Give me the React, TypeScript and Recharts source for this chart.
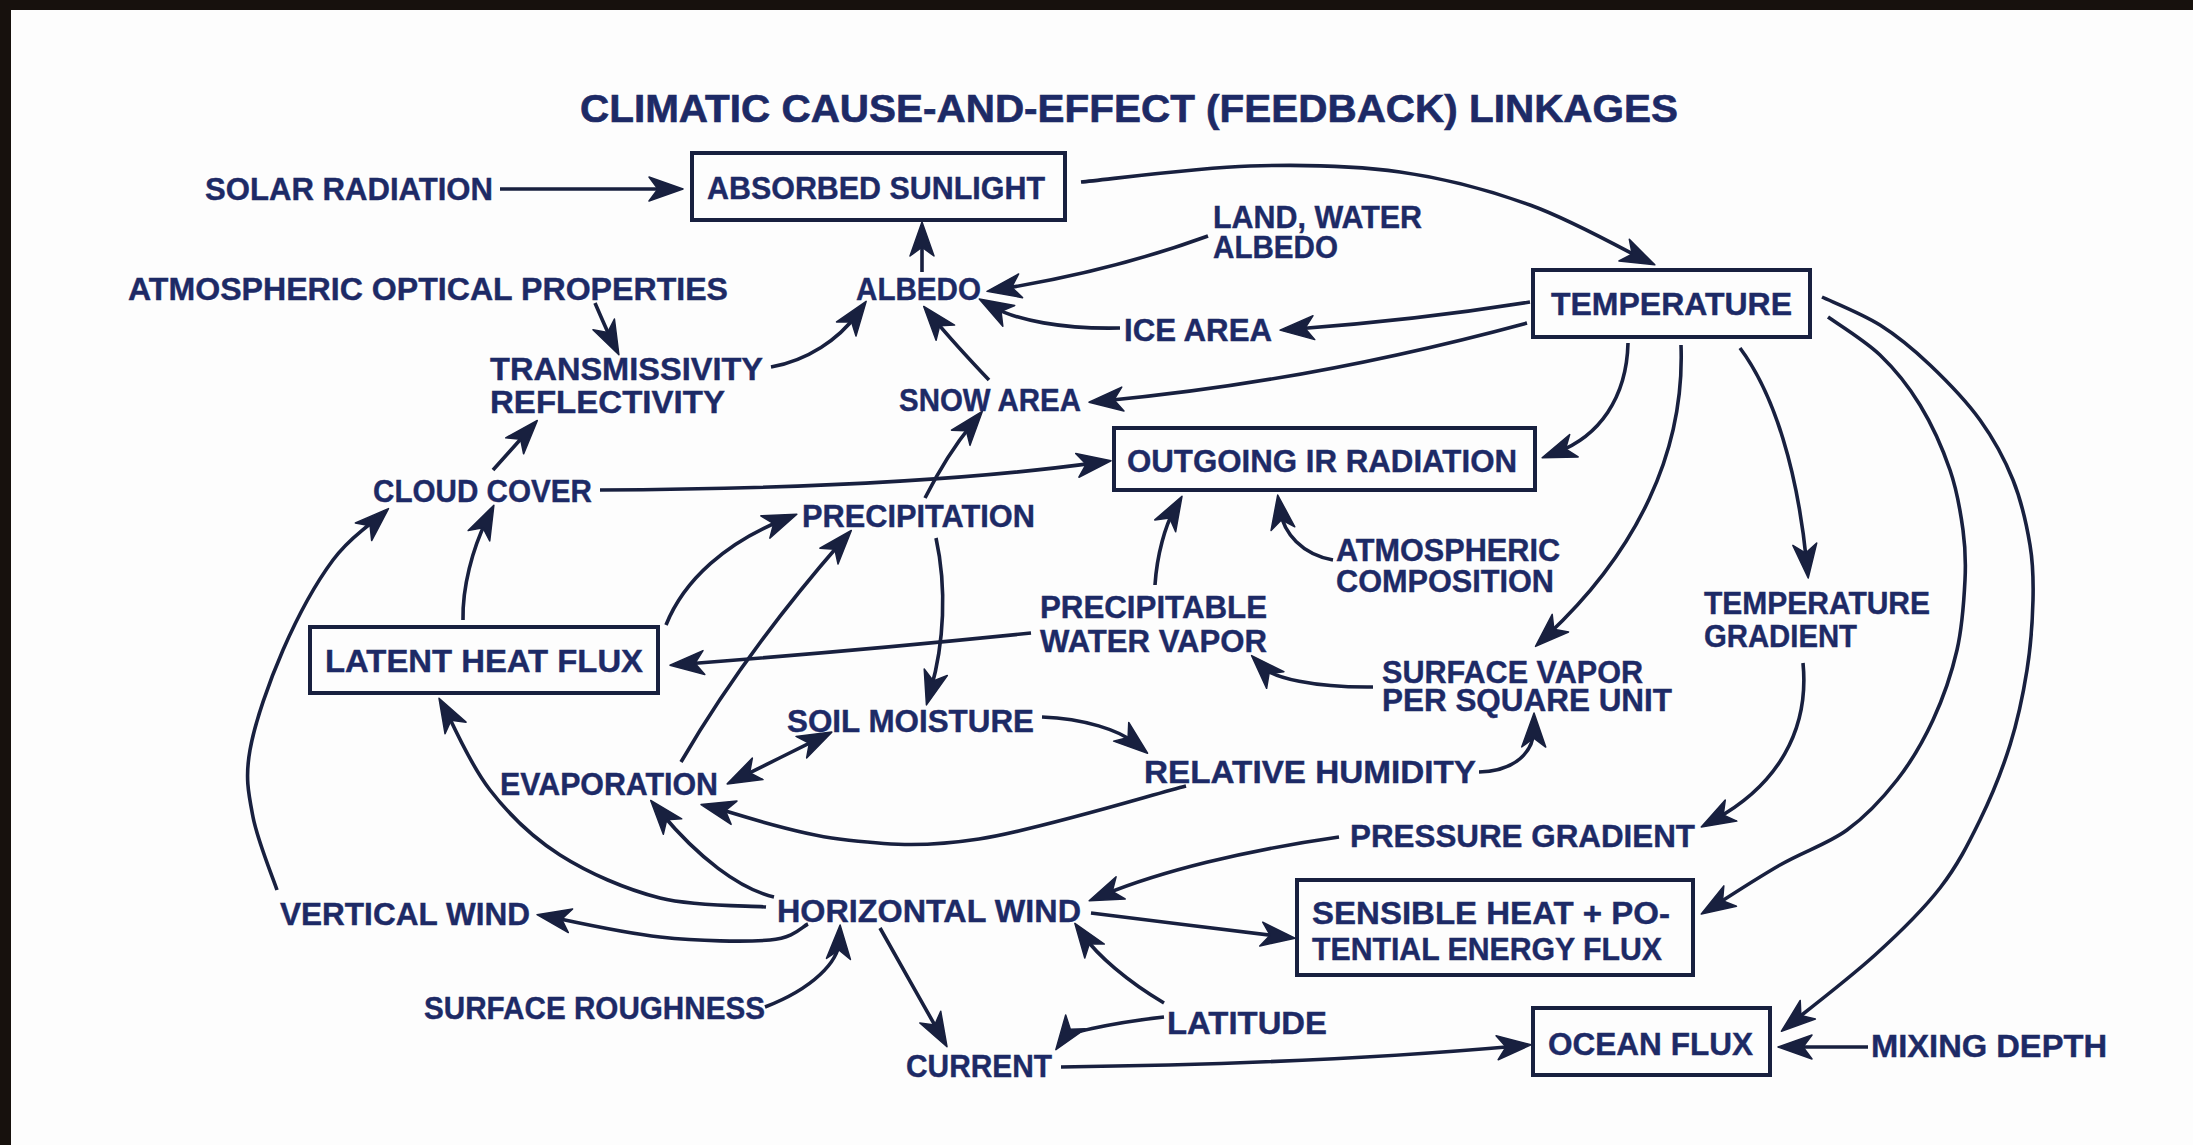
import React from "react";
import { ScatterChart, Scatter, XAxis, YAxis, ReferenceArea } from "recharts";

const WIDTH = 2193;
const HEIGHT = 1145;
const INK = "#18203f";
const LETTER = "#1d2a66";
const FONT = 32;

const title = "CLIMATIC CAUSE-AND-EFFECT (FEEDBACK) LINKAGES";

// lettering on the sheet: text, left edge, middle of the caps
const labels = [
  { text: "SOLAR RADIATION", x: 205, y: 188 },
  { text: "ABSORBED SUNLIGHT", x: 707, y: 187 },
  { text: "LAND, WATER", x: 1213, y: 216 },
  { text: "ALBEDO", x: 1213, y: 246 },
  { text: "ATMOSPHERIC OPTICAL PROPERTIES", x: 128, y: 288 },
  { text: "ALBEDO", x: 856, y: 288 },
  { text: "TEMPERATURE", x: 1551, y: 303 },
  { text: "ICE AREA", x: 1124, y: 329 },
  { text: "TRANSMISSIVITY", x: 490, y: 368 },
  { text: "REFLECTIVITY", x: 490, y: 401 },
  { text: "SNOW AREA", x: 899, y: 399 },
  { text: "OUTGOING IR RADIATION", x: 1127, y: 460 },
  { text: "CLOUD COVER", x: 373, y: 490 },
  { text: "PRECIPITATION", x: 802, y: 515 },
  { text: "ATMOSPHERIC", x: 1336, y: 549 },
  { text: "COMPOSITION", x: 1336, y: 580 },
  { text: "TEMPERATURE", x: 1704, y: 602 },
  { text: "GRADIENT", x: 1704, y: 635 },
  { text: "PRECIPITABLE", x: 1040, y: 606 },
  { text: "WATER VAPOR", x: 1040, y: 640 },
  { text: "LATENT HEAT FLUX", x: 325, y: 660 },
  { text: "SURFACE VAPOR", x: 1382, y: 671 },
  { text: "PER SQUARE UNIT", x: 1382, y: 699 },
  { text: "SOIL MOISTURE", x: 787, y: 720 },
  { text: "RELATIVE HUMIDITY", x: 1144, y: 771 },
  { text: "EVAPORATION", x: 500, y: 783 },
  { text: "PRESSURE GRADIENT", x: 1350, y: 835 },
  { text: "VERTICAL WIND", x: 280, y: 913 },
  { text: "HORIZONTAL WIND", x: 777, y: 910 },
  { text: "SENSIBLE HEAT + PO-", x: 1312, y: 912 },
  { text: "TENTIAL ENERGY FLUX", x: 1312, y: 948 },
  { text: "SURFACE ROUGHNESS", x: 424, y: 1007 },
  { text: "LATITUDE", x: 1167, y: 1022 },
  { text: "OCEAN FLUX", x: 1548, y: 1043 },
  { text: "MIXING DEPTH", x: 1871, y: 1045 },
  { text: "CURRENT", x: 906, y: 1065 },
];

// how wide each label is lettered (same order as labels)
const labelWidths = [
  288, 338, 209, 125, 600, 125, 241, 148, 273, 235, 182, 390, 219, 233, 224,
  218, 226, 153, 227, 227, 318, 261, 290, 247, 332, 218, 345, 250, 304, 358,
  350, 341, 160, 205, 236, 146,
];

// framed quantities
const boxes = [
  { name: "ABSORBED SUNLIGHT", x1: 692, x2: 1065, y1: 153, y2: 220 },
  { name: "TEMPERATURE", x1: 1533, x2: 1810, y1: 270, y2: 337 },
  { name: "OUTGOING IR RADIATION", x1: 1114, x2: 1535, y1: 428, y2: 490 },
  { name: "LATENT HEAT FLUX", x1: 310, x2: 658, y1: 627, y2: 693 },
  { name: "SENSIBLE HEAT + POTENTIAL ENERGY FLUX", x1: 1297, x2: 1693, y1: 880, y2: 975 },
  { name: "OCEAN FLUX", x1: 1533, x2: 1770, y1: 1008, y2: 1075 },
];

// cause -> effect links, traced along the drawn arrows (tail ... tip)
const links: { from: string; to: string; path: number[][]; both?: boolean }[] = [
  { from: "solar radiation", to: "absorbed sunlight", path: [[500, 189], [681, 189]] },
  { from: "absorbed sunlight", to: "temperature", path: [[1081, 182], [1250, 166], [1400, 172], [1530, 205], [1653, 264]] },
  { from: "albedo", to: "absorbed sunlight", path: [[922, 272], [922, 224]] },
  { from: "land, water albedo", to: "albedo", path: [[1208, 236], [1106, 267], [989, 291]] },
  { from: "ice area", to: "albedo", path: [[1120, 328], [1042, 322], [981, 300]] },
  { from: "temperature", to: "ice area", path: [[1530, 302], [1412, 318], [1282, 330]] },
  { from: "temperature", to: "snow area", path: [[1527, 323], [1310, 372], [1091, 402]] },
  { from: "snow area", to: "albedo", path: [[989, 380], [955, 343], [925, 308]] },
  { from: "transmissivity", to: "albedo", path: [[771, 367], [822, 346], [865, 303]] },
  { from: "atmospheric optical properties", to: "transmissivity", path: [[595, 303], [607, 330], [618, 353]] },
  { from: "cloud cover", to: "transmissivity", path: [[493, 470], [536, 422]] },
  { from: "cloud cover", to: "outgoing ir radiation", path: [[600, 490], [881, 482], [1109, 461]] },
  { from: "precipitation", to: "snow area", path: [[925, 498], [950, 455], [981, 413]] },
  { from: "precipitation", to: "soil moisture", path: [[936, 538], [942, 617], [927, 703]] },
  { from: "latent heat flux", to: "cloud cover", path: [[463, 620], [470, 567], [493, 507]] },
  { from: "latent heat flux", to: "precipitation", path: [[666, 625], [712, 563], [795, 515]] },
  { from: "evaporation", to: "precipitation", path: [[681, 762], [755, 650], [850, 532]] },
  { from: "precipitable water vapor", to: "latent heat flux", path: [[1031, 633], [853, 650], [672, 665]] },
  { from: "precipitable water vapor", to: "outgoing ir radiation", path: [[1155, 585], [1163, 540], [1181, 498]] },
  { from: "atmospheric composition", to: "outgoing ir radiation", path: [[1333, 560], [1296, 540], [1278, 497]] },
  { from: "temperature", to: "outgoing ir radiation", path: [[1628, 343], [1606, 413], [1544, 457]] },
  { from: "temperature", to: "surface vapor", path: [[1681, 345], [1648, 500], [1537, 645]] },
  { from: "temperature", to: "temperature gradient", path: [[1740, 348], [1783, 440], [1808, 576]] },
  {
    from: "temperature",
    to: "sensible heat flux",
    path: [[1828, 317], [1880, 355], [1920, 405], [1950, 470], [1963, 530], [1965, 580], [1957, 650], [1933, 720], [1897, 780], [1847, 830], [1780, 865], [1703, 913]],
  },
  {
    from: "temperature",
    to: "ocean flux",
    path: [[1822, 297], [1880, 325], [1930, 365], [1980, 420], [2013, 480], [2030, 545], [2033, 600], [2027, 670], [2010, 745], [1980, 820], [1940, 888], [1875, 955], [1783, 1030]],
  },
  { from: "temperature gradient", to: "pressure gradient", path: [[1803, 663], [1783, 755], [1703, 826]] },
  { from: "surface vapor", to: "precipitable water vapor", path: [[1373, 687], [1298, 680], [1253, 657]] },
  { from: "relative humidity", to: "surface vapor", path: [[1479, 772], [1520, 757], [1534, 715]] },
  { from: "soil moisture", to: "relative humidity", path: [[1042, 717], [1100, 727], [1146, 752]] },
  { from: "relative humidity", to: "evaporation", path: [[1186, 786], [979, 839], [839, 839], [703, 805]] },
  { from: "evaporation", to: "soil moisture", path: [[729, 783], [830, 733]], both: true },
  { from: "horizontal wind", to: "latent heat flux", path: [[766, 907], [660, 898], [560, 855], [490, 790], [440, 700]] },
  { from: "horizontal wind", to: "evaporation", path: [[774, 897], [717, 867], [652, 802]] },
  { from: "horizontal wind", to: "vertical wind", path: [[808, 924], [770, 940], [660, 937], [539, 915]] },
  { from: "vertical wind", to: "cloud cover", path: [[277, 890], [253, 817], [250, 750], [283, 650], [333, 560], [387, 510]] },
  { from: "surface roughness", to: "horizontal wind", path: [[765, 1007], [820, 973], [840, 927]] },
  { from: "horizontal wind", to: "current", path: [[880, 928], [946, 1045]] },
  { from: "latitude", to: "horizontal wind", path: [[1164, 1003], [1114, 967], [1076, 925]] },
  { from: "latitude", to: "current", path: [[1164, 1017], [1091, 1030], [1057, 1048]] },
  { from: "current", to: "ocean flux", path: [[1061, 1067], [1304, 1060], [1529, 1045]] },
  { from: "mixing depth", to: "ocean flux", path: [[1868, 1047], [1780, 1047]] },
  { from: "horizontal wind", to: "sensible heat flux", path: [[1091, 913], [1293, 938]] },
  { from: "pressure gradient", to: "horizontal wind", path: [[1339, 837], [1205, 863], [1091, 900]] },
];

type Pt = { x: number; y: number };

const unit = (a: Pt, b: Pt) => {
  const dx = b.x - a.x;
  const dy = b.y - a.y;
  const len = Math.hypot(dx, dy) || 1;
  return { x: dx / len, y: dy / len };
};

const head = (tip: Pt, u: Pt) => {
  const L = 32;
  const W = 12;
  const bx = tip.x - u.x * L;
  const by = tip.y - u.y * L;
  const nx = -u.y;
  const ny = u.x;
  return `M${tip.x + u.x * 2},${tip.y + u.y * 2} L${bx + nx * W},${by + ny * W} L${tip.x - u.x * L * 0.72},${tip.y - u.y * L * 0.72} L${bx - nx * W},${by - ny * W} Z`;
};

// smooth path through the traced points, arrow head(s) along the end tangent
const LinkArrow = ({ points, both }: { points: Pt[]; both?: boolean }) => {
  if (!points || points.length < 2) return null;
  const pts = points.map((p) => ({ x: p.x, y: p.y }));
  const n = pts.length;
  let endDir: Pt;
  let startDir: Pt;
  let segs: { c1: Pt; c2: Pt; p: Pt }[] = [];
  if (n === 2) {
    endDir = unit(pts[0], pts[1]);
    startDir = unit(pts[1], pts[0]);
    segs = [{ c1: pts[0], c2: pts[1], p: pts[1] }];
  } else if (n === 3) {
    // quadratic through the middle point
    const c = {
      x: 2 * pts[1].x - (pts[0].x + pts[2].x) / 2,
      y: 2 * pts[1].y - (pts[0].y + pts[2].y) / 2,
    };
    endDir = unit(c, pts[2]);
    startDir = unit(c, pts[0]);
    const c1 = { x: pts[0].x + (2 / 3) * (c.x - pts[0].x), y: pts[0].y + (2 / 3) * (c.y - pts[0].y) };
    const c2 = { x: pts[2].x + (2 / 3) * (c.x - pts[2].x), y: pts[2].y + (2 / 3) * (c.y - pts[2].y) };
    segs = [{ c1, c2, p: pts[2] }];
  } else {
    for (let i = 0; i < n - 1; i++) {
      const p0 = pts[i - 1] || pts[i];
      const p1 = pts[i];
      const p2 = pts[i + 1];
      const p3 = pts[i + 2] || p2;
      segs.push({
        c1: { x: p1.x + (p2.x - p0.x) / 6, y: p1.y + (p2.y - p0.y) / 6 },
        c2: { x: p2.x - (p3.x - p1.x) / 6, y: p2.y - (p3.y - p1.y) / 6 },
        p: p2,
      });
    }
    endDir = unit(segs[n - 2].c2, pts[n - 1]);
    startDir = unit(segs[0].c1, pts[0]);
  }
  const tip = pts[n - 1];
  const trim = 14;
  const last = segs[segs.length - 1];
  last.p = { x: tip.x - endDir.x * trim, y: tip.y - endDir.y * trim };
  let start = pts[0];
  if (both) start = { x: start.x - startDir.x * trim, y: start.y - startDir.y * trim };
  let d = `M${start.x},${start.y}`;
  segs.forEach((s) => {
    d += ` C${s.c1.x},${s.c1.y} ${s.c2.x},${s.c2.y} ${s.p.x},${s.p.y}`;
  });
  return (
    <g>
      <path d={d} fill="none" stroke={INK} strokeWidth={3.6} strokeLinecap="butt" />
      <path d={head(tip, endDir)} fill={INK} stroke={INK} strokeWidth={1.5} strokeLinejoin="round" />
      {both && <path d={head(pts[0], startDir)} fill={INK} stroke={INK} strokeWidth={1.5} strokeLinejoin="round" />}
    </g>
  );
};

const labelData = labels.map((l, i) => ({ ...l, w: labelWidths[i] }));

const renderLabel = (p: any) => {
  const d = p.payload;
  return (
    <text
      x={p.cx}
      y={p.cy + FONT * 0.36}
      textLength={d.w}
      lengthAdjust="spacingAndGlyphs"
      fill={LETTER}
      stroke={LETTER}
      strokeWidth={0.4}
      fontFamily="'Liberation Sans', Arial, sans-serif"
      fontWeight="bold"
      fontSize={FONT}
    >
      {d.text}
    </text>
  );
};

const renderTitle = (p: any) => (
  <text
    x={p.cx}
    y={p.cy + 38 * 0.36}
    textAnchor="middle"
    textLength={1098}
    lengthAdjust="spacingAndGlyphs"
    fill={LETTER}
    stroke={LETTER}
    strokeWidth={0.6}
    fontFamily="'Liberation Sans', Arial, sans-serif"
    fontWeight="bold"
    fontSize={38}
  >
    {p.payload.text}
  </text>
);

const noDot = () => <g />;

export default function App() {
  return (
    <div
      style={{
        position: "absolute",
        left: 0,
        top: 0,
        width: WIDTH,
        height: HEIGHT,
        background: "#17110d",
        overflow: "hidden",
      }}
    >
      <div style={{ position: "absolute", left: 11, top: 10, right: 0, bottom: 0, background: "#fdfdfd" }} />
      <div style={{ position: "absolute", left: 0, top: 0 }}>
        <ScatterChart width={WIDTH} height={HEIGHT} margin={{ top: 0, right: 0, bottom: 0, left: 0 }}>
          <XAxis type="number" dataKey="x" domain={[0, WIDTH]} hide allowDataOverflow />
          <YAxis type="number" dataKey="y" domain={[0, HEIGHT]} reversed hide allowDataOverflow />
          {boxes.map((b) => (
            <ReferenceArea
              key={b.name}
              x1={b.x1}
              x2={b.x2}
              y1={b.y1}
              y2={b.y2}
              fill="none"
              stroke={INK}
              strokeWidth={4}
              ifOverflow="visible"
            />
          ))}
          {links.map((l, i) => (
            <Scatter
              key={`${l.from}-${l.to}-${i}`}
              name={`${l.from} -> ${l.to}`}
              data={l.path.map(([x, y]) => ({ x, y }))}
              isAnimationActive={false}
              shape={noDot}
              line={(lp: any) => <LinkArrow points={lp.points} both={l.both} />}
            />
          ))}
          <Scatter data={labelData} isAnimationActive={false} shape={renderLabel} />
          <Scatter data={[{ x: 1129, y: 108, text: title }]} isAnimationActive={false} shape={renderTitle} />
        </ScatterChart>
      </div>
    </div>
  );
}
